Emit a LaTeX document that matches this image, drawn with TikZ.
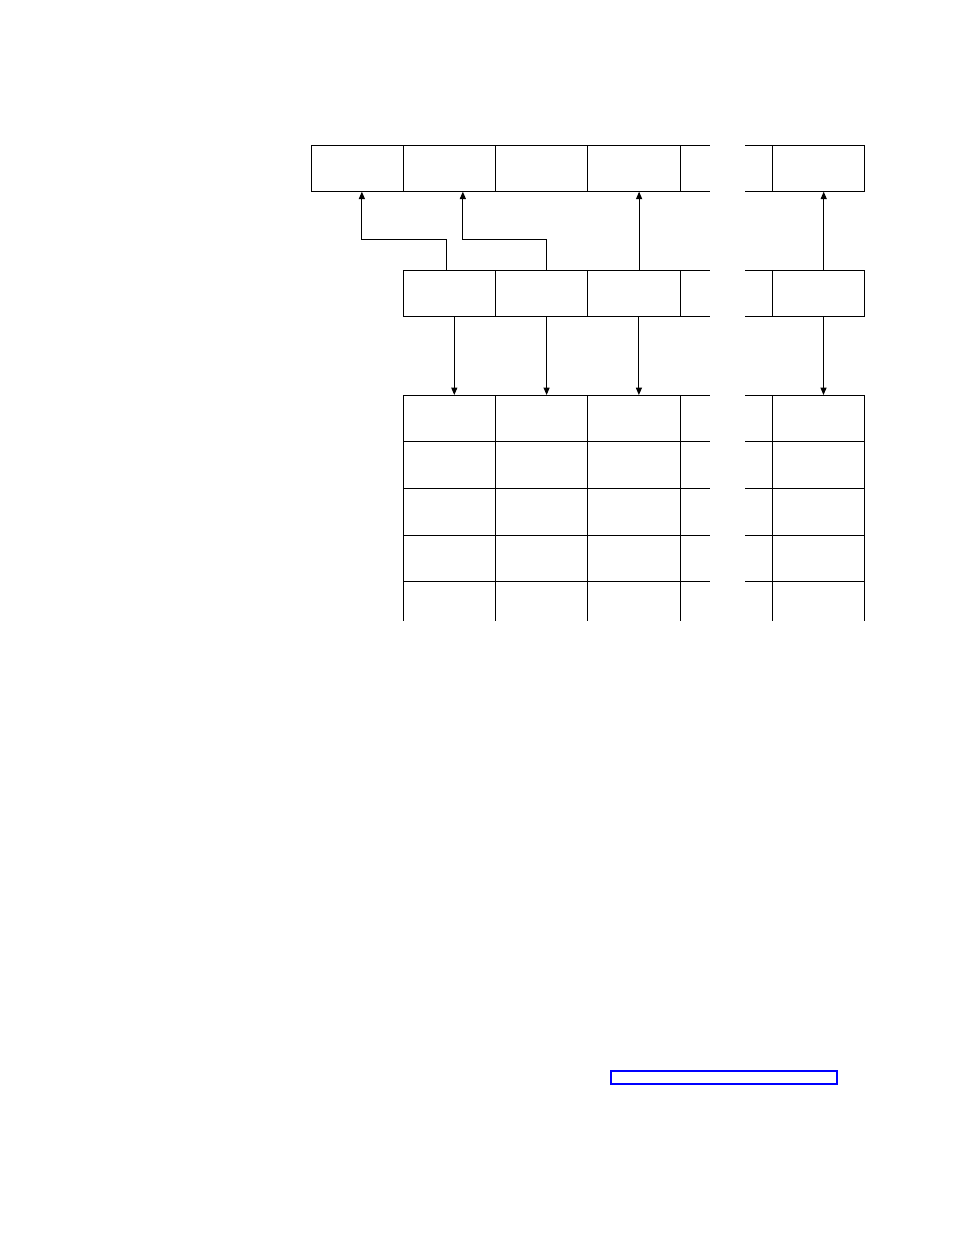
\documentclass[tikz,border=0pt]{standalone}
\usetikzlibrary{arrows.meta}
\tikzset{
  cell/.style={draw, rectangle, line width=0.75pt, minimum width=69.2pt, minimum height=35pt, inner sep=0pt, outer sep=0pt},
  arr/.style={-{Triangle[length=5.5pt,width=4.5pt]}, line width=0.75pt},
  brk/.style={line width=0.75pt},
  linkbox/.style={draw=blue, line width=1.3pt, rectangle, minimum width=169.5pt, minimum height=10pt, inner sep=0pt},
}
\begin{document}
\begin{tikzpicture}[x=0.75pt,y=-0.75pt]
	\useasboundingbox (0,0) rectangle (954,1235);

	% top row
	\foreach \c/\x in {1/357.2,2/449.5,3/541.8,4/634.1,6/818.7}
		\node[cell] (t\c) at (\x,168.333) {};

	% middle row
	\foreach \c/\x in {2/449.5,3/541.8,4/634.1,6/818.7}
		\node[cell] (m\c) at (\x,293.333) {};

	% bottom grid
	\foreach \r/\y in {1/418.333,2/465,3/511.667,4/558.333}
		\foreach \c/\x in {2/449.5,3/541.8,4/634.1,6/818.7}
			\node[cell] (b\r\c) at (\x,\y) {};

	% broken column
	\foreach \y in {145,191.667,270,316.667,395,441.667,488.333,535,581.667}{
		\draw[brk] (680.2,\y) -- (710,\y);
		\draw[brk] (745,\y) -- (772.5,\y);
	}
	\foreach \x in {403.3,495.6,587.9,680.2,772.5,864.8}
		\draw[brk] (\x,581.667) -- (\x,620.5);

	\draw[arr] ([xshift=-1.9pt]m2.north) -- ++(0,-31) -| ([xshift=3.5pt]t1.south);
	\draw[arr] ([xshift=3.75pt]m3.north) -- ++(0,-31) -| ([xshift=10pt]t2.south);
	\path[arr] ([xshift=3.75pt]m4.north) edge ([xshift=3.75pt]t4.south);
	\path[arr] ([xshift=3.75pt]m6.north) edge ([xshift=3.75pt]t6.south);

	\foreach \c in {2,3,4,6}
		\path[arr] ([xshift=3.6pt]m\c.south) edge ([xshift=3.6pt]b1\c.north);

	\node[linkbox] (link) at (724,1077.3) {};
\end{tikzpicture}
\end{document}
